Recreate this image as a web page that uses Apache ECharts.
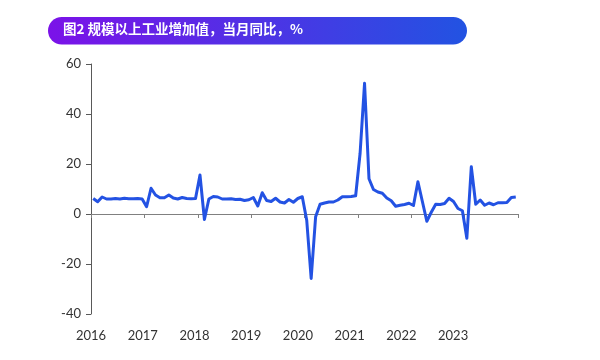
<!DOCTYPE html>
<html>
<head>
<meta charset="utf-8">
<script src="https://cdn.jsdelivr.net/npm/echarts@6/dist/echarts.min.js"></script>
<style>
html,body{margin:0;padding:0;background:#fff;}
#chart{width:600px;height:360px;}
</style>
</head>
<body>
<div id="chart"></div>
<script>
// Monthly categories 2016-01 .. 2023-12
const years = ['2016','2017','2018','2019','2020','2021','2022','2023'];
const months = [];
years.forEach(function(y){ for (let m = 1; m <= 12; m++) months.push(y + '-' + (m < 10 ? '0' + m : m)); });

const v2016 = [6.2, 4.9, 6.8, 6.0, 6.0, 6.2, 6.0, 6.3, 6.1, 6.1, 6.2, 6.0];
const v2017 = [2.9, 10.3, 7.6, 6.5, 6.5, 7.6, 6.4, 6.0, 6.6, 6.2, 6.1, 6.2];
const v2018 = [15.6, -2.2, 6.0, 7.0, 6.8, 6.0, 6.0, 6.1, 5.8, 5.9, 5.4, 5.7];
const v2019 = [6.6, 3.2, 8.5, 5.4, 5.0, 6.3, 4.8, 4.4, 5.8, 4.7, 6.2, 6.9];
const v2020 = [-2.5, -25.8, -1.1, 3.9, 4.4, 4.8, 4.8, 5.6, 6.9, 6.9, 7.0, 7.3];
const v2021 = [24.3, 52.3, 14.1, 9.8, 8.8, 8.3, 6.4, 5.3, 3.1, 3.5, 3.8, 4.3];
const v2022 = [3.4, 12.9, 5.0, -2.9, 0.7, 3.9, 3.8, 4.2, 6.3, 5.0, 2.2, 1.3];
const v2023 = [-9.7, 18.9, 3.9, 5.6, 3.5, 4.4, 3.7, 4.5, 4.5, 4.6, 6.6, 6.8];
const values = [].concat(v2016, v2017, v2018, v2019, v2020, v2021, v2022, v2023);

const yTicks = { min: -40, max: 60, interval: 20 };
const titleText = '图2 规模以上工业增加值，当月同比，%';

const chart = echarts.init(document.getElementById('chart'), null, { renderer: 'canvas' });
const gridLeft = 91, gridRight = 82, gridTop = 64, gridBottom = 46;
const plotW = 600 - gridLeft - gridRight;
const labelStep = 51.73;

chart.setOption({
  animation: false,
  backgroundColor: '#ffffff',
  textStyle: { fontFamily: 'Lato, "Noto Sans", sans-serif' },
  graphic: [
    {
      type: 'rect',
      shape: { x: 48, y: 17, width: 419, height: 27.5, r: 13.75 },
      style: {
        fill: new echarts.graphic.LinearGradient(0, 0, 1, 0, [
          { offset: 0, color: '#7B12E8' },
          { offset: 1, color: '#2253E2' }
        ])
      },
      silent: true
    },
    {
      type: 'text',
      left: 63, top: 22,
      style: {
        text: titleText,
        fill: '#ffffff',
        font: 'bold 13.5px "Noto Sans CJK SC", sans-serif'
      },
      silent: true
    }
  ],
  grid: { left: gridLeft, right: gridRight, top: gridTop, bottom: gridBottom, containLabel: false },
  xAxis: [
    {
      type: 'category',
      data: months,
      boundaryGap: true,
      axisLine: { onZero: true, lineStyle: { color: '#808080', width: 1 } },
      axisTick: { show: true, interval: 11, length: 4, inside: false, lineStyle: { color: '#808080' } },
      axisLabel: { show: false },
      splitLine: { show: false }
    },
    {
      type: 'value',
      position: 'bottom',
      min: 0,
      max: plotW / labelStep,
      interval: 1,
      axisLine: { show: false, onZero: false },
      axisTick: { show: false },
      splitLine: { show: false },
      axisLabel: {
        margin: 15,
        color: '#333333',
        fontSize: 13,
        fontFamily: 'Lato, "Noto Sans", sans-serif',
        showMaxLabel: false,
        formatter: function (v) {
          const i = Math.round(v);
          return (Math.abs(v - i) < 1e-6 && years[i]) ? years[i] : '';
        }
      }
    }
  ],
  yAxis: {
    type: 'value',
    min: yTicks.min, max: yTicks.max, interval: yTicks.interval,
    axisLine: { show: true, lineStyle: { color: '#595959', width: 1 } },
    axisTick: { show: true, length: 5, lineStyle: { color: '#595959' } },
    axisLabel: { margin: 10, color: '#333333', fontSize: 13, fontFamily: 'Lato, "Noto Sans", sans-serif' },
    splitLine: { show: false }
  },
  series: [{
    type: 'line',
    xAxisIndex: 0,
    data: values,
    showSymbol: false,
    symbol: 'none',
    lineStyle: { color: '#2352E3', width: 3, join: 'round' },
    z: 3
  }]
});
</script>
</body>
</html>
